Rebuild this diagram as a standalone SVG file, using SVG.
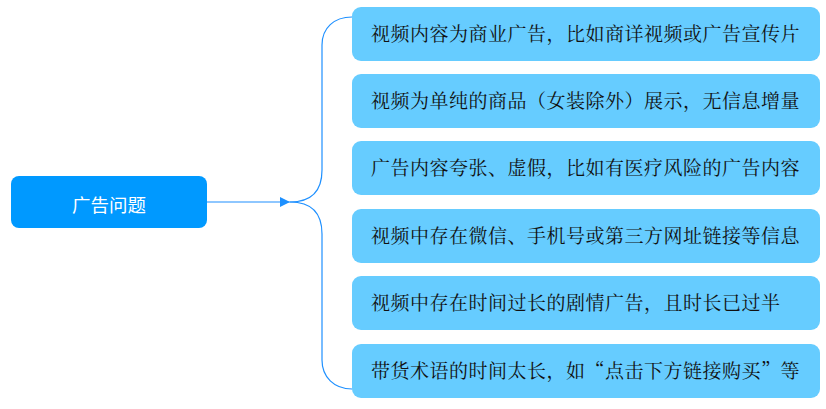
<svg xmlns="http://www.w3.org/2000/svg" width="826" height="409" viewBox="0 0 826 409">
<defs>
<style>
.leaf rect{fill:#66CCFF;}
.leaf text{font-family:"Noto Serif CJK SC","Noto Sans CJK SC",serif;font-size:19px;letter-spacing:0.5px;fill:#111;}
.conn{fill:none;stroke:#1E90FF;stroke-width:1.2;}
</style>
<marker id="ah" viewBox="0 0 10 10" refX="10" refY="5" markerWidth="14" markerHeight="10" markerUnits="userSpaceOnUse" orient="auto">
<path d="M0,0 L10,5 L0,10 Z" fill="#1E90FF"/>
</marker>
</defs>
<rect width="826" height="409" fill="#ffffff"/>
<g id="connectors">
<path class="conn" d="M207,202 L290,202" marker-end="url(#ah)"/>
<path class="conn" d="M290,202 C310,202 322,192 322,170 L322,45 C322,28 334,17 352,17"/>
<path class="conn" d="M290,202 C310,202 322,212 322,234 L322,360 C322,377 334,389 352,389"/>
</g>
<g id="root">
<rect x="11" y="176" width="196" height="52" rx="8" fill="#0099FF"/>
<text x="109" y="212" text-anchor="middle" font-family="'Noto Sans CJK SC',sans-serif" font-size="18.5" fill="#ffffff">广告问题</text>
</g>
<g id="n1" class="leaf"><rect x="352" y="7" width="468" height="54" rx="9"/><text x="371" y="41">视频内容为商业广告，比如商详视频或广告宣传片</text></g>
<g id="n2" class="leaf"><rect x="352" y="74" width="468" height="54" rx="9"/><text x="371" y="108">视频为单纯的商品（女装除外）展示，无信息增量</text></g>
<g id="n3" class="leaf"><rect x="352" y="141" width="468" height="54" rx="9"/><text x="371" y="175">广告内容夸张、虚假，比如有医疗风险的广告内容</text></g>
<g id="n4" class="leaf"><rect x="352" y="209" width="468" height="54" rx="9"/><text x="371" y="243">视频中存在微信、手机号或第三方网址链接等信息</text></g>
<g id="n5" class="leaf"><rect x="352" y="276" width="468" height="54" rx="9"/><text x="371" y="310">视频中存在时间过长的剧情广告，且时长已过半</text></g>
<g id="n6" class="leaf"><rect x="352" y="344" width="468" height="54" rx="9"/><text x="371" y="378">带货术语的时间太长，如“点击下方链接购买”等</text></g>
</svg>
